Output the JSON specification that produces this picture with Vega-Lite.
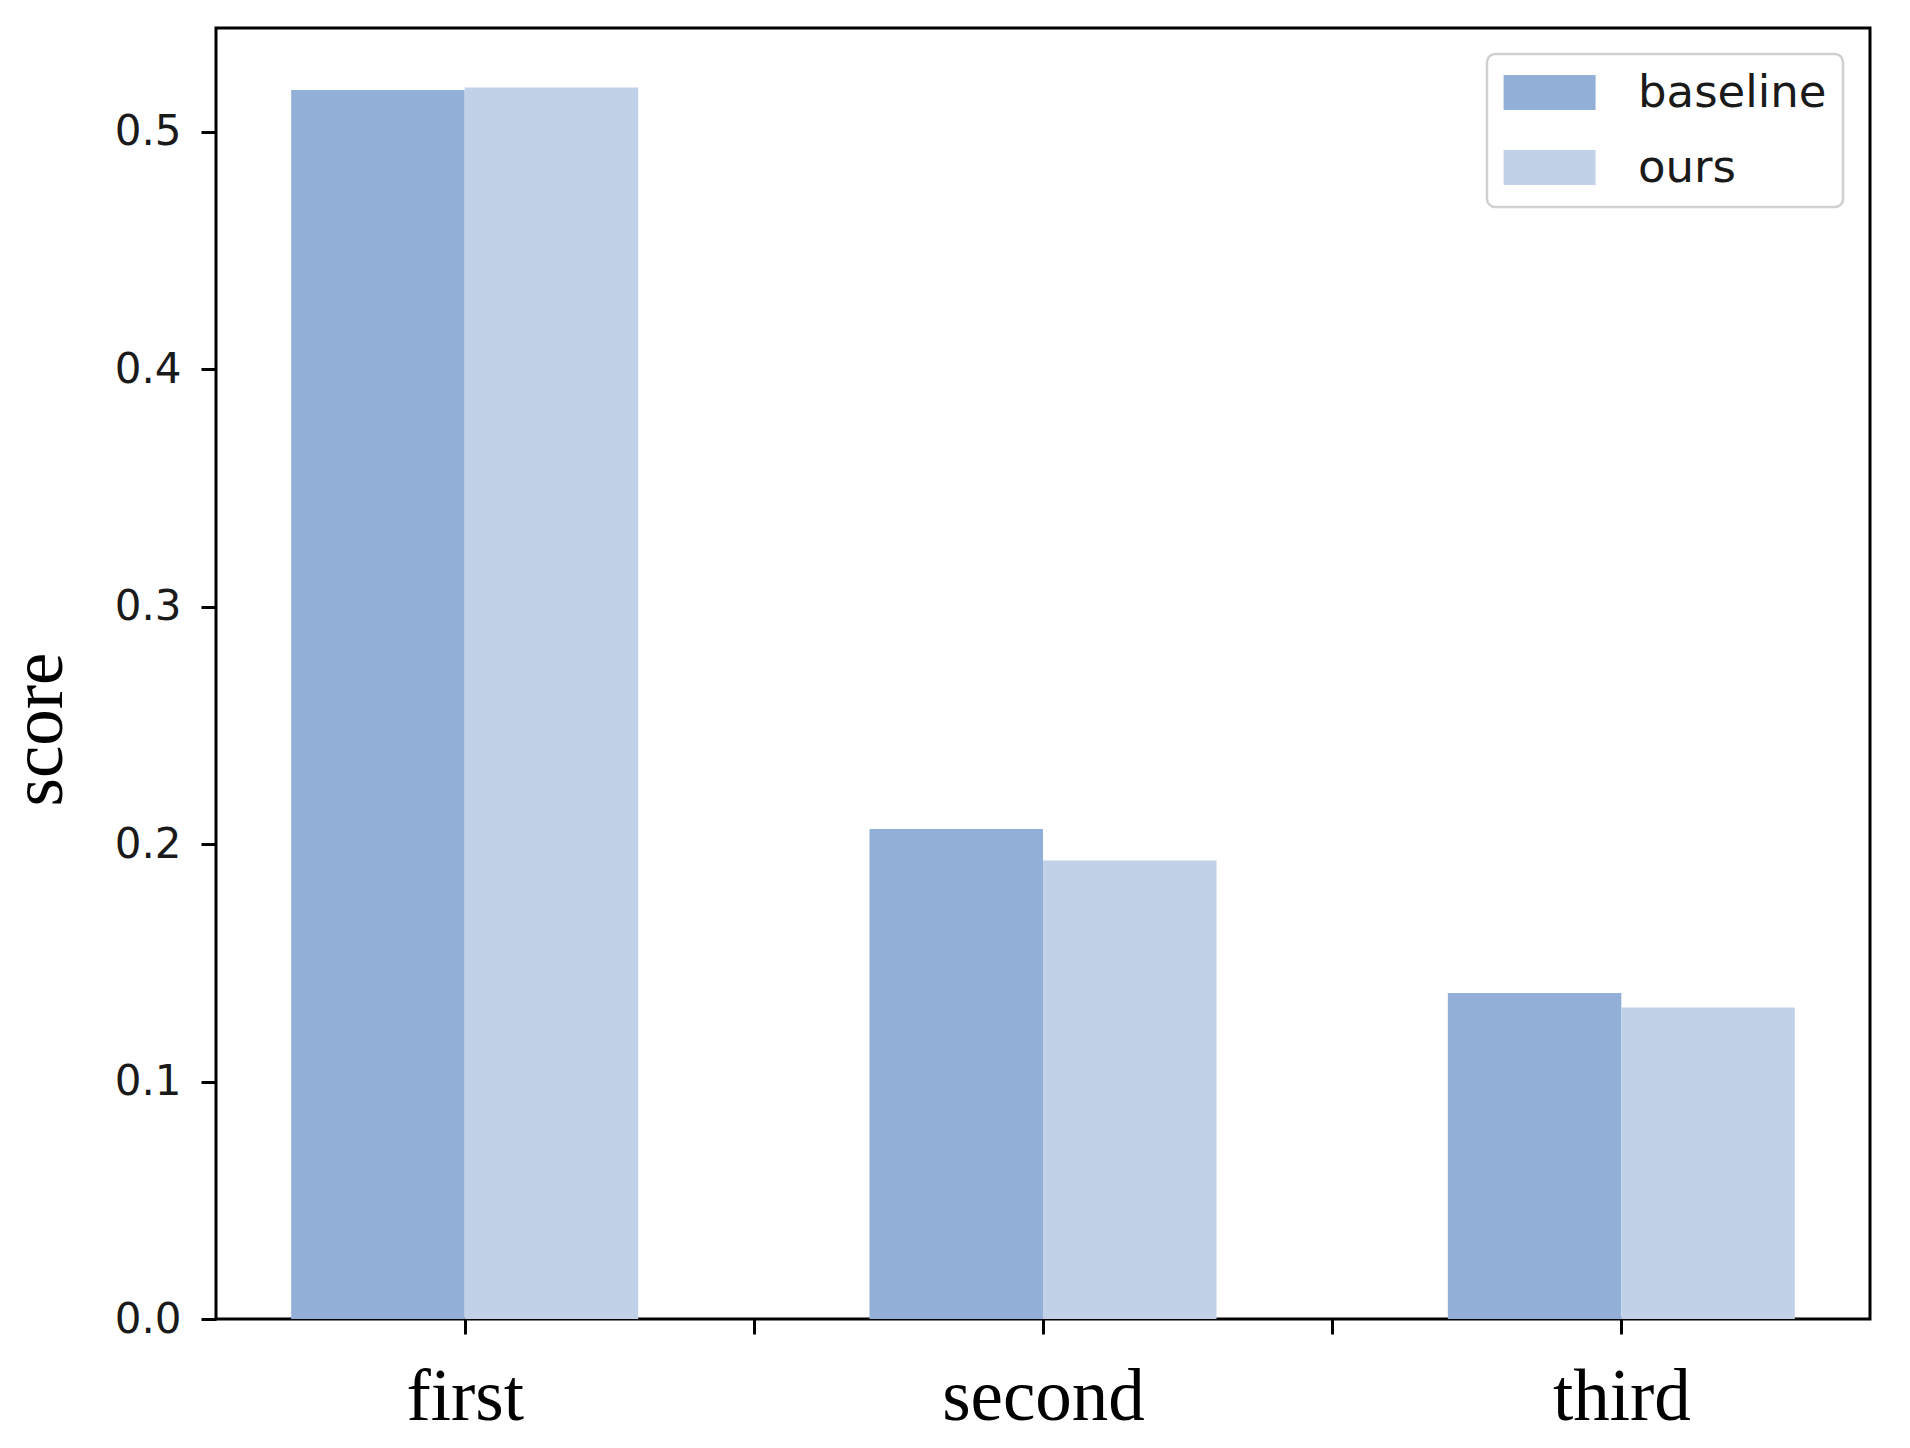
{
  "$schema": "https://vega.github.io/schema/vega-lite/v6.json",
  "autosize": {"type": "none"},
  "padding": {"left": 216, "top": 28, "right": 40, "bottom": 129},
  "width": 1654,
  "height": 1291,
  "background": "white",
  "config": {
    "view": {"stroke": "#000000", "strokeWidth": 3},
    "axis": {"grid": false, "domain": false, "tickColor": "#000000", "tickWidth": 3, "tickSize": 15},
    "legend": {"strokeWidth": 2.5}
  },
  "data": {
    "values": [
      {"category": "first", "idx": 0, "series": "baseline", "score": 0.5175},
      {"category": "first", "idx": 0, "series": "ours", "score": 0.5185},
      {"category": "second", "idx": 1, "series": "baseline", "score": 0.2063},
      {"category": "second", "idx": 1, "series": "ours", "score": 0.1931},
      {"category": "third", "idx": 2, "series": "baseline", "score": 0.1373},
      {"category": "third", "idx": 2, "series": "ours", "score": 0.1312}
    ]
  },
  "encoding": {
    "y": {
      "field": "score",
      "type": "quantitative",
      "scale": {"domain": [0, 0.5436], "nice": false, "zero": true},
      "axis": {
        "values": [0, 0.1, 0.2, 0.3, 0.4, 0.5],
        "format": ".1f",
        "labelFont": "DejaVu Sans",
        "labelFontSize": 42,
        "labelColor": "#1a1a1a",
        "labelPadding": 20,
        "title": "score",
        "titleFont": "Liberation Serif",
        "titleFontSize": 73,
        "titleFontWeight": "normal",
        "titleColor": "#000000",
        "titleAngle": -90,
        "titleAlign": "center",
        "titleBaseline": "alphabetic",
        "titleX": -155,
        "titleY": 701
      }
    }
  },
  "layer": [
    {
      "mark": {"type": "bar", "strokeWidth": 0},
      "encoding": {
        "x": {
          "field": "category",
          "type": "nominal",
          "sort": ["first", "second", "third"],
          "scale": {"paddingInner": 0.4, "paddingOuter": 0.13},
          "axis": null
        },
        "xOffset": {
          "field": "series",
          "type": "nominal",
          "sort": ["baseline", "ours"],
          "scale": {"paddingInner": 0, "paddingOuter": 0}
        },
        "color": {
          "field": "series",
          "type": "nominal",
          "scale": {"domain": ["baseline", "ours"], "range": ["#92afd7", "#c1d1e8"]},
          "legend": {
            "title": null,
            "orient": "none",
            "legendX": 1271,
            "legendY": 26,
            "padding": 16,
            "fillColor": "#ffffff",
            "strokeColor": "#d0d0d0",
            "cornerRadius": 8,
            "symbolType": "M-1.19,-0.95L3.81,-0.95L3.81,0.95L-1.19,0.95Z",
            "symbolSize": 1354,
            "symbolStrokeWidth": 0,
            "symbolOpacity": 1,
            "labelFont": "DejaVu Sans",
            "labelFontSize": 45,
            "labelColor": "#1a1a1a",
            "labelOffset": 90,
            "labelLimit": 0,
            "rowPadding": 29
          }
        }
      }
    },
    {
      "mark": {"type": "point", "opacity": 0},
      "encoding": {
        "x": {
          "field": "idx",
          "type": "quantitative",
          "scale": {"domain": [-0.43, 2.43], "nice": false, "zero": false},
          "axis": {
            "orient": "bottom",
            "values": [0, 0.5, 1, 1.5, 2],
            "labelExpr": "datum.value == 0 ? 'first' : datum.value == 1 ? 'second' : datum.value == 2 ? 'third' : ''",
            "labelFont": "Liberation Serif",
            "labelFontSize": 73,
            "labelColor": "#000000",
            "labelPadding": 27,
            "labelLimit": 0,
            "labelFlush": false,
            "labelOverlap": false,
            "title": null
          }
        }
      }
    }
  ],
  "resolve": {"scale": {"x": "independent"}}
}
